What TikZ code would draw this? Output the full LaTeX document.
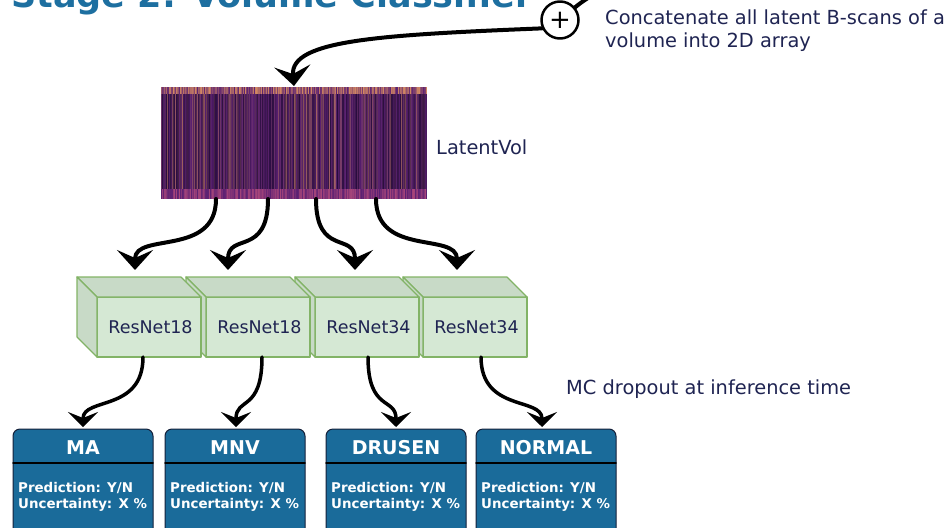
\documentclass[tikz,border=0pt]{standalone}
\usepackage{fontspec}
\setmainfont{DejaVu Sans}
\usetikzlibrary{arrows.meta}
\definecolor{txtnavy}{HTML}{1F2452}
\definecolor{titleblue}{HTML}{1D6FA0}
\definecolor{boxblue}{HTML}{1A6B9A}
\definecolor{boxedge}{HTML}{14203A}
\definecolor{greenfront}{HTML}{D5E8D4}
\definecolor{greenside}{HTML}{C8DAC7}
\definecolor{greenedge}{HTML}{82B366}
\definecolor{voldark}{HTML}{260B3C}
\definecolor{volmid}{HTML}{5A2072}
\definecolor{volhot}{HTML}{A8467A}
\definecolor{volorange}{HTML}{D48A62}
\tikzset{
	flow/.style={line width=4pt, -{Stealth[length=20pt,width=36pt,inset=8pt]}},
	flowsmall/.style={line width=3.5pt, -{Stealth[length=15pt,width=30pt,inset=6pt]}},
	cubebox/.style={draw=greenedge, fill=greenfront, line width=1.2pt, minimum width=104pt,
		minimum height=60pt, inner sep=0pt, outer sep=0pt, text=txtnavy, font=\fontsize{17.5}{20}\selectfont},
	cubeside/.style={draw=greenedge, fill=greenside, line width=1.2pt, line join=round},
	outbox/.style={draw=boxedge, fill=boxblue, rounded corners=7pt, line width=1pt, minimum width=140pt,
		minimum height=110pt, anchor=north, outer sep=0pt},
	headtxt/.style={text=white, font=\fontsize{19}{22}\selectfont\bfseries, inner sep=0pt},
	bodytxt/.style={text=white, font=\fontsize{13.4}{16}\selectfont\bfseries, inner sep=0pt, align=left, anchor=west},
	note/.style={text=txtnavy, font=\fontsize{19.4}{23}\selectfont, inner sep=0pt, align=left, anchor=west}
}
\begin{document}
\begin{tikzpicture}[x=1pt, y=-1pt, line join=round, line cap=round]
	\useasboundingbox (0,0) rectangle (949,527);
	\clip (0,0) rectangle (949,527);
	\node[anchor=base west, inner sep=0pt, text=titleblue, font=\fontsize{35}{40}\selectfont\bfseries] (title) at (11,8) {Stage 2: Volume Classifier};
	% concatenation
	\node[circle, draw, fill=white, line width=2.5pt, minimum size=37pt, inner sep=0pt, font=\fontsize{26}{26}\selectfont] (plus) at (560,20) {+};
	\coordinate (scans) at (615,-25);
	\draw[line width=4pt] (plus.40) to[out=40,in=-125] (scans);
	\node[note] (concat) at (605,31) {Concatenate all latent B-scans of a\\volume into 2D array};
	% latent volume
	\node[minimum width=266pt, minimum height=112pt, inner sep=0pt, outer sep=0pt] (vol) at (294,143) {};
	\pgfmathsetseed{17}
	\foreach \i in {0,...,265}{
		\pgfmathsetmacro\ra{int(100*rnd)}
		\pgfmathsetmacro\rd{int(100*rnd*rnd*rnd)}
		\pgfmathsetmacro\rb{int(100*rnd)}
		\pgfmathsetmacro\rc{int(100*rnd)}
		\colorlet{stripebase}{volmid!\ra!voldark}
		\colorlet{stripe}{volorange!\rd!stripebase}
		\colorlet{stripetop}{volorange!\rb!volmid}
		\colorlet{stripelow}{volhot!\rc!volmid}
		\fill[stripe] (161+\i,94) rectangle ++(1.05,96);
		\fill[stripetop] (161+\i,87) rectangle ++(1.05,7);
		\fill[stripelow] (161+\i,189) rectangle ++(1.05,10);
	}
	\node[note] (voltxt) at ([xshift=9pt,yshift=-4pt]vol.east) {LatentVol};
	\draw[flow] (plus.205) .. controls (380,35) and (290,40) .. ([yshift=1pt]vol.north);
	% classifiers
	\foreach \n/\x/\t in {r4/475/ResNet34, r3/367/ResNet34, r2/258/ResNet18, r1/149/ResNet18}{
		\node[cubebox] (\n) at (\x,327) {\hspace*{3pt}\t};
		\filldraw[cubeside] (\n.north west) -- ++(-20,-20) -- ([shift={(-20,-20)}]\n.north east) -- (\n.north east) -- cycle;
		\filldraw[cubeside] (\n.north west) -- ++(-20,-20) -- ([shift={(-20,-20)}]\n.south west) -- (\n.south west) -- cycle;
	}
	\coordinate (in1) at (135,270);
	\coordinate (in2) at (228,270);
	\coordinate (in3) at (355,270);
	\coordinate (in4) at (457,270);
	\foreach \s/\e in {55/in1, 107/in2, 155/in3, 215/in4}
	\draw[flow] ([xshift=\s pt]vol.south west) .. controls +(0,58) and +(0,-38) .. (\e);
	\node[note] (mcdrop) at (566,389) {MC dropout at inference time};
	% outputs
	\foreach \n/\x/\t in {ma/83/MA, mnv/235/MNV, drusen/396/DRUSEN, normal/546/NORMAL}{
		\node[outbox] (\n) at (\x,429) {};
		\draw[line width=1.5pt, black] ([yshift=-34pt]\n.north west) -- ([yshift=-34pt]\n.north east);
		\node[headtxt] (\n-head) at ([yshift=-19pt]\n.north) {\t};
		\node[bodytxt] (\n-body) at ([xshift=5pt,yshift=-68pt]\n.north west) {Prediction: Y/N\\Uncertainty: X \%};
	}
	\foreach \a/\s/\b/\t in {r1/-6/ma/0, r2/4/mnv/1, r3/1/drusen/0, r4/6/normal/-4}
	\draw[flowsmall] ([xshift=\s pt]\a.south) .. controls +(0,55) and +(0,-30) .. ([xshift=\t pt,yshift=2pt]\b.north);
\end{tikzpicture}
\end{document}
